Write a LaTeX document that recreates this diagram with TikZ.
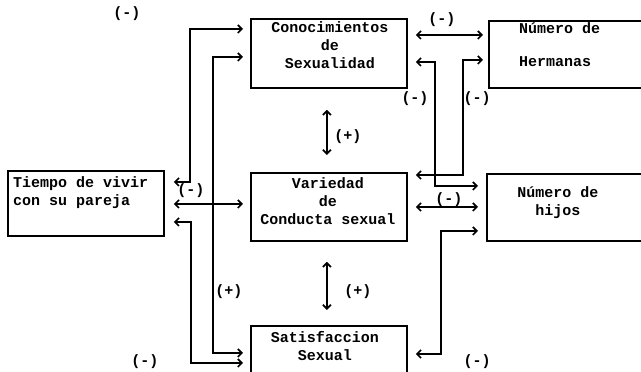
\documentclass[tikz,border=0pt]{standalone}
\usepackage{fontspec}
\setmonofont{Liberation Mono}
\usetikzlibrary{arrows.meta}
\begin{document}
\begin{tikzpicture}[x=1pt,y=1pt,
  box/.style={draw, line width=1.8pt, anchor=north west, inner sep=0pt},
  txt/.style={font=\ttfamily\bfseries\fontsize{15}{18}\selectfont, inner sep=0pt},
  lbl/.style={font=\ttfamily\bfseries\fontsize{15}{18}\selectfont, inner sep=0pt},
  link/.style={line width=1.7pt, {Straight Barb[length=4pt,width=8pt]}-{Straight Barb[length=4pt,width=8pt]}}]
\useasboundingbox (0,0) rectangle (641,372);
% boxes
\node[box, minimum width=156pt, minimum height=69pt] (conoc) at (250,354) {};
\node[box, minimum width=160pt, minimum height=67pt] (herm) at (488,352) {};
\node[box, minimum width=156pt, minimum height=65pt] (tiempo) at (7,202) {};
\node[box, minimum width=156pt, minimum height=68pt] (var) at (250,200) {};
\node[box, minimum width=162pt, minimum height=67pt] (hijos) at (486,199) {};
\node[box, minimum width=156pt, minimum height=62pt] (satis) at (250,47) {};
% texts
\node[txt, align=center] (conoct) at (330,327) {Conocimientos\\de\\Sexualidad};
\node[txt, align=left, anchor=west] (hermt) at (519,327) {Número de\\[15pt]Hermanas};
\node[txt, align=left, anchor=west] (tiempot) at (13,179) {Tiempo de vivir\\con su pareja};
\node[txt, align=center] (vart) at (328,171) {Variedad\\de\\Conducta sexual};
\node[txt, align=center] (hijost) at (558,169) {Número de\\hijos};
\node[txt, align=center] (satist) at (325,26) {Satisfaccion\\Sexual};
% connectors
\draw[link] ([shift={(9,-12)}]tiempo.north east) -- ++(16,0) |- ([shift={(-7,-11)}]conoc.north west);
\draw[link] ([shift={(-7,-39)}]conoc.north west) -- ++(-30,0) |- ([shift={(-7,-28)}]satis.north west);
\draw[link] ([shift={(9,-34)}]tiempo.north east) -- ([shift={(-7,-32)}]var.north west);
\draw[link] ([shift={(9,-52)}]tiempo.north east) -- ++(17,0) |- ([shift={(-7,-38)}]satis.north west);
\draw[link] ([shift={(8,-17)}]conoc.north east) -- ([shift={(-5,-15)}]herm.north west);
\draw[link] ([shift={(8,-44)}]conoc.north east) -- ++(19,0) |- ([shift={(-8,-13)}]hijos.north west);
\draw[link] ([shift={(-5,-40)}]herm.north west) -- ++(-20,0) |- ([shift={(8,-3)}]var.north east);
\draw[link] ([shift={(8,-35)}]var.north east) -- ([shift={(-8,-34)}]hijos.north west);
\draw[link] ([shift={(-8,-58)}]hijos.north west) -- ++(-37,0) |- ([shift={(8,-29)}]satis.north east);
\draw[link] ([shift={(-2,-21)}]conoc.south) -- ([shift={(-2,17)}]var.north);
\draw[link] ([shift={(-2,-20)}]var.south) -- ([shift={(-2,15)}]satis.north);
% labels
\node[lbl] (l1) at (127,358) {(-)};
\node[lbl] (l2) at (442,352) {(-)};
\node[lbl] (l3) at (415,273) {(-)};
\node[lbl] (l4) at (477,273) {(-)};
\node[lbl] (l5) at (191,181) {(-)};
\node[lbl] (l6) at (449,172) {(-)};
\node[lbl] (l7) at (229,80) {(+)};
\node[lbl] (l8) at (348,235) {(+)};
\node[lbl] (l9) at (358,80) {(+)};
\node[lbl] (l10) at (145,10) {(-)};
\node[lbl] (l11) at (477,10) {(-)};
\end{tikzpicture}
\end{document}
